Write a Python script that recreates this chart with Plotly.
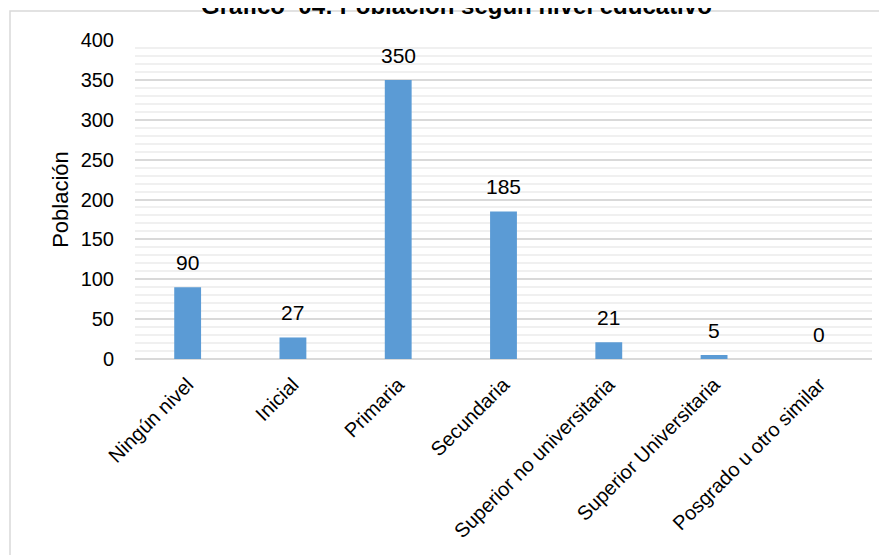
import plotly.graph_objects as go

categorias = ["Ningún nivel", "Inicial", "Primaria", "Secundaria",
              "Superior no universitaria", "Superior Universitaria",
              "Posgrado u otro similar"]
poblacion = [90, 27, 350, 185, 21, 5, 0]
titulo = "Gráfico  04: Población según nivel educativo"
eje_y = "Población"

FONT = "Liberation Sans, Arial, sans-serif"

# page is rendered with an 8px body margin; work in figure coordinates
OFF = 8
W, H = 887 - OFF, 555 - OFF
L, R, T, B = 135 - OFF, 15, 40 - OFF, 196
pw, ph = W - L - R, H - T - B


def px_x(x):
    return (x - OFF - L) / pw


def px_y(y):
    return (H - B - (y - OFF)) / ph


fig = go.Figure()
fig.add_trace(go.Bar(
    x=categorias, y=poblacion,
    marker=dict(color="#5b9bd5", line=dict(width=0)),
    width=0.255, hoverinfo="x+y",
))

for c, v in zip(categorias, poblacion):
    fig.add_annotation(x=c, y=v, text=str(v), showarrow=False,
                       yanchor="bottom", yshift=11,
                       font=dict(family=FONT, size=21, color="#000000"))

fig.add_shape(type="rect", xref="paper", yref="paper",
              x0=px_x(10), x1=px_x(930), y0=px_y(640), y1=px_y(11),
              line=dict(color="#d9d9d9", width=1.5), layer="below")

fig.add_annotation(xref="paper", yref="paper", x=px_x(456), y=px_y(21),
                   text="<b>" + titulo + "</b>", showarrow=False,
                   xanchor="center", yanchor="bottom",
                   font=dict(family=FONT, size=24, color="#000000"))

fig.update_layout(
    width=W, height=H,
    margin=dict(l=L, r=R, t=T, b=B, pad=0),
    paper_bgcolor="white", plot_bgcolor="white",
    showlegend=False,
    xaxis=dict(
        tickangle=-45,
        tickfont=dict(family=FONT, size=20, color="#000000"),
        showgrid=False, showline=False, zeroline=False,
        ticks="", ticklabelstandoff=9,
    ),
    yaxis=dict(
        range=[0, 400], dtick=50,
        tickfont=dict(family=FONT, size=20, color="#000000"),
        showgrid=True, gridcolor="#d9d9d9", gridwidth=1.5,
        zeroline=True, zerolinecolor="#d9d9d9", zerolinewidth=1.5,
        minor=dict(dtick=10, showgrid=True, gridcolor="#f0f0f0", gridwidth=1.5),
        ticks="", ticklabelstandoff=20,
        title=dict(text=eje_y, font=dict(family=FONT, size=22, color="#000000"), standoff=5),
    ),
)

fig.write_html("out.html")
